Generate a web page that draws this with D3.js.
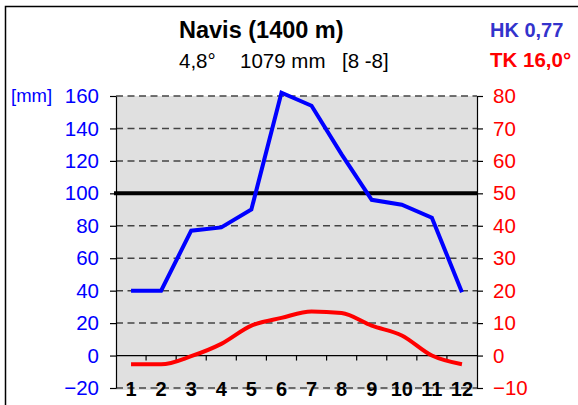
<!DOCTYPE html>
<html><head><meta charset="utf-8">
<script src="https://cdn.jsdelivr.net/npm/d3@7"></script>
<style>
html,body{margin:0;padding:0;background:#fff;}
svg{display:block;font-family:"Liberation Sans",Arial,sans-serif;}
</style></head>
<body>
<svg id="c" width="578" height="405"></svg>
<script>
const months = [1,2,3,4,5,6,7,8,9,10,11,12];
const precip = [40, 40, 77, 79, 90, 162, 154, 124, 96, 93, 85, 39];
const temp = [-2.7, -2.7, -0.2, 3.6, 9.2, 11.6, 13.6, 13.1, 9.2, 6.2, 0, -2.7];
const precipTicks = [-20,0,20,40,60,80,100,120,140,160];
const tempTicks = [-10,0,10,20,30,40,50,60,70,80];
const title = "Navis (1400 m)";
const subtitleParts = ["4,8°", "1079 mm", "[8 -8]"];
const hk = "HK 0,77";
const tk = "TK 16,0°";
const humidLimit = 100;

const svg = d3.select("#c");
const L = 116, R = 477, T = 96, B = 388;

const x = d3.scaleBand().domain(months).range([L, R]);
const yP = d3.scaleLinear().domain([-20,160]).range([B, T]);
const yT = d3.scaleLinear().domain([-10,80]).range([B, T]);

// frame
svg.append("path").attr("d", `M5.5,405 V6.5 H578`).attr("fill","none").attr("stroke","#000").attr("stroke-width",1.5);

// plot background
svg.append("rect").attr("x", L).attr("y", T).attr("width", R-L).attr("height", B-T+2).attr("fill", "#e0e0e0");

// dashed gridlines
svg.append("g").selectAll("line").data(precipTicks.filter(d=>d!==0)).join("line")
  .attr("x1", L).attr("x2", R).attr("y1", d=>yP(d)).attr("y2", d=>yP(d))
  .attr("stroke", "#444").attr("stroke-width", 1.5).attr("stroke-dasharray", "7,4.5");

// x axis at zero
const x0 = yP(0);
svg.append("line").attr("x1", L).attr("x2", R).attr("y1", x0).attr("y2", x0).attr("stroke","#000").attr("stroke-width",1.2);
svg.append("g").selectAll("line").data(months.slice(1)).join("line")
  .attr("x1", d=>x(d)).attr("x2", d=>x(d)).attr("y1", x0).attr("y2", x0+5)
  .attr("stroke","#000").attr("stroke-width",1.2);

// left axis
const gl = svg.append("g").attr("transform", `translate(${L},0)`)
  .call(d3.axisLeft(yP).tickValues(precipTicks).tickSize(6).tickPadding(11).tickSizeOuter(0));
gl.select(".domain").attr("stroke","#000").attr("stroke-width",1.2);
gl.selectAll(".tick line").attr("stroke","#000").attr("stroke-width",1.2);
gl.selectAll(".tick text").attr("fill","#0000ff").attr("font-size",20.5).attr("font-family","Liberation Sans, Arial, sans-serif");

// right axis
const gr = svg.append("g").attr("transform", `translate(${R},0)`)
  .call(d3.axisRight(yT).tickValues(tempTicks).tickSize(6).tickPadding(10).tickSizeOuter(0));
gr.select(".domain").attr("stroke","#000").attr("stroke-width",1.2);
gr.selectAll(".tick line").attr("stroke","#000").attr("stroke-width",1.2);
gr.selectAll(".tick text").attr("fill","#ff0000").attr("font-size",20.5).attr("font-family","Liberation Sans, Arial, sans-serif");

// month labels
svg.append("g").selectAll("text").data(months).join("text")
  .attr("x", d=>x(d)+x.bandwidth()/2).attr("y", B+8)
  .attr("text-anchor","middle").attr("font-size",20).attr("font-weight","bold").attr("fill","#000")
  .text(d=>d);

// 100 mm line
svg.append("line").attr("x1", L-2).attr("x2", R).attr("y1", yP(humidLimit)).attr("y2", yP(humidLimit))
  .attr("stroke","#000").attr("stroke-width",4);

const cx = d => x(d)+x.bandwidth()/2;
// precip line
svg.append("path").datum(months)
  .attr("d", d3.line().x(cx).y((d,i)=>yP(precip[i])))
  .attr("fill","none").attr("stroke","#0000ff").attr("stroke-width",4).attr("stroke-linejoin","miter");
// temp line
svg.append("path").datum(months)
  .attr("d", d3.line().x(cx).y((d,i)=>yT(temp[i])).curve(d3.curveMonotoneX))
  .attr("fill","none").attr("stroke","#ff0000").attr("stroke-width",4);

// texts
svg.append("text").attr("x", 179).attr("y", 38).attr("font-size",23.5).attr("font-weight","bold").text(title);
const sub = svg.append("text").attr("y", 68).attr("font-size",20.5);
const subX = [179, 240, 342];
subtitleParts.forEach((s,i)=> sub.append("tspan").attr("x", subX[i]).text(s));
svg.append("text").attr("x", 490).attr("y", 37).attr("font-size",20).attr("font-weight","bold").attr("fill","#3333cc").text(hk);
svg.append("text").attr("x", 490).attr("y", 67).attr("font-size",20.5).attr("font-weight","bold").attr("fill","#ff0000").text(tk);
svg.append("text").attr("x", 11).attr("y", 102).attr("font-size",18.5).attr("fill","#0000ff").text("[mm]");
</script>
</body></html>
